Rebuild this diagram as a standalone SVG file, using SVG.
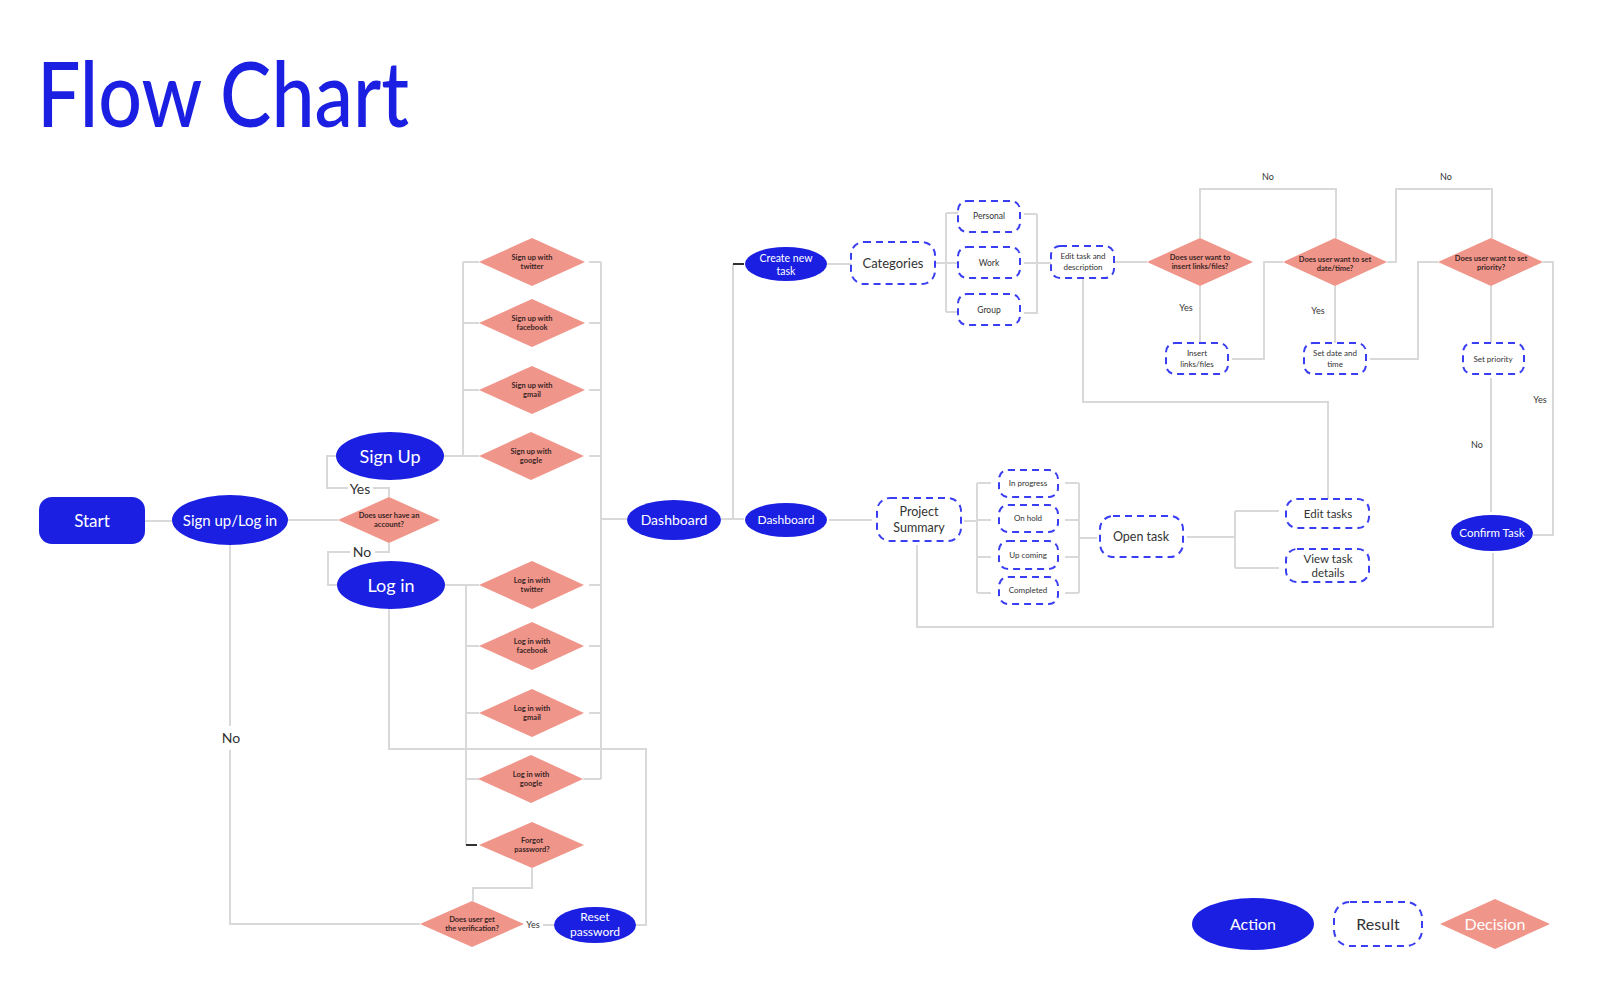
<svg xmlns="http://www.w3.org/2000/svg" width="1598" height="1006" viewBox="0 0 1598 1006">
<style>
text{font-family:Lato,"Open Sans","Liberation Sans",sans-serif;text-anchor:middle}
.act{fill:#1b1fe2}
.act-t{fill:#fff}
.res{fill:#fff;stroke:#3a3ef2;stroke-width:2;stroke-dasharray:7 5}
.res-t{fill:#333}
.dec{fill:#f0958a}
.dec-t{fill:#3a2626;font-size:7.5px;font-weight:bold}
.ln{fill:none;stroke:#d9d9d9;stroke-width:2}
.tick{fill:none;stroke:#333;stroke-width:2}
.lbl{fill:#333}
</style>
<rect width="1598" height="1006" fill="#fff"/>
<text x="37" y="127" textLength="372" lengthAdjust="spacingAndGlyphs" style="text-anchor:start;font-size:90px;font-weight:500" fill="#1b1fe2">Flow Chart</text>

<g id="connectors">
<path class="ln" d="M145 521H172"/>
<path class="ln" d="M288 520H338"/>
<path class="ln" d="M389 497V488H373M348 488H327V456H336"/>
<path class="ln" d="M389 543V552H375M350 552H328V585H337"/>
<path class="ln" d="M444 456H479M463 262V456M463 262H479M463 323H479M463 390H479"/>
<path class="ln" d="M589 262H601M589 323H601M589 390H601M589 456H601M601 262V779"/>
<path class="ln" d="M445 585H479M466 585V845M466 646H479M466 713H479M466 779H479"/>
<path class="tick" d="M466 845H477"/>
<path class="ln" d="M589 585H601M589 646H601M589 713H601M583 779H601"/>
<path class="ln" d="M601 519H627"/>
<path class="ln" d="M721 519H744M733 519V264"/>
<path class="tick" d="M733 264H744"/>
<path class="ln" d="M827 264H851"/>
<path class="ln" d="M935 263H958M946 213V312M946 213H958M946 312H958"/>
<path class="ln" d="M1024 214H1037M1024 263H1051M1024 313H1037M1037 214V314"/>
<path class="ln" d="M1114 262H1147"/>
<path class="ln" d="M1083 278V402H1328V499"/>
<path class="ln" d="M1200 238V189H1336V238"/>
<path class="ln" d="M1200 286V343"/>
<path class="ln" d="M1232 359H1264V262H1283"/>
<path class="ln" d="M1335 286V343"/>
<path class="ln" d="M1387 262H1396V189H1492V238"/>
<path class="ln" d="M1370 359H1418V262H1438"/>
<path class="ln" d="M1491 286V343"/>
<path class="ln" d="M1543 262H1553V535H1533"/>
<path class="ln" d="M1491 378V512"/>
<path class="ln" d="M1493 553V627H917V545"/>
<path class="ln" d="M829 520H872"/>
<path class="ln" d="M964 521H977M977 483V593M977 483H991M977 520H991M977 557H991M977 593H991"/>
<path class="ln" d="M1065 483H1079M1065 520H1079M1065 557H1079M1065 593H1079M1079 483V593M1079 538H1097"/>
<path class="ln" d="M1187 537H1235M1235 511V568M1235 511H1279M1235 568H1279"/>
<path class="ln" d="M230 545V726M230 750V924H420"/>
<path class="ln" d="M532 868V888H473V901"/>
<path class="ln" d="M543 925H554"/>
<path class="ln" d="M635 925H646V749H389V608"/>
<text class="lbl" x="360" y="494" font-size="14">Yes</text>
<text class="lbl" x="362" y="557" font-size="14">No</text>
<text class="lbl" x="231" y="743" font-size="14">No</text>
<text class="lbl" x="533" y="928" font-size="9">Yes</text>
<text class="lbl" x="1268" y="180" font-size="9">No</text>
<text class="lbl" x="1446" y="180" font-size="9">No</text>
<text class="lbl" x="1186" y="311" font-size="9">Yes</text>
<text class="lbl" x="1318" y="314" font-size="9">Yes</text>
<text class="lbl" x="1540" y="403" font-size="9">Yes</text>
<text class="lbl" x="1477" y="448" font-size="9">No</text>
</g>

<g id="start"><rect class="act" x="39" y="497" width="106" height="47" rx="13"/><text class="act-t" x="92" y="527" font-size="17">Start</text></g>
<g id="signup-login"><ellipse class="act" cx="230" cy="520" rx="58" ry="25"/><text class="act-t" x="230" y="526" font-size="15">Sign up/Log in</text></g>
<g id="q-account"><polygon class="dec" points="338,520 389,497 440,520 389,543"/><text class="dec-t" x="389" y="518">Does user have an<tspan x="389" dy="9">account?</tspan></text></g>
<g id="sign-up"><ellipse class="act" cx="390" cy="456" rx="54" ry="24"/><text class="act-t" x="390" y="463" font-size="18">Sign Up</text></g>
<g id="log-in"><ellipse class="act" cx="391" cy="585" rx="54" ry="24"/><text class="act-t" x="391" y="592" font-size="18">Log in</text></g>

<g id="su-twitter"><polygon class="dec" points="479,262 532,238 585,262 532,286"/><text class="dec-t" x="532" y="260">Sign up with<tspan x="532" dy="9">twitter</tspan></text></g>
<g id="su-facebook"><polygon class="dec" points="479,323 532,299 585,323 532,347"/><text class="dec-t" x="532" y="321">Sign up with<tspan x="532" dy="9">facebook</tspan></text></g>
<g id="su-gmail"><polygon class="dec" points="479,390 532,366 585,390 532,414"/><text class="dec-t" x="532" y="388">Sign up with<tspan x="532" dy="9">gmail</tspan></text></g>
<g id="su-google"><polygon class="dec" points="479,456 531,432 584,456 531,480"/><text class="dec-t" x="531" y="454">Sign up with<tspan x="531" dy="9">google</tspan></text></g>

<g id="li-twitter"><polygon class="dec" points="479,585 532,561 584,585 532,609"/><text class="dec-t" x="532" y="583">Log in with<tspan x="532" dy="9">twitter</tspan></text></g>
<g id="li-facebook"><polygon class="dec" points="479,646 532,622 584,646 532,670"/><text class="dec-t" x="532" y="644">Log in with<tspan x="532" dy="9">facebook</tspan></text></g>
<g id="li-gmail"><polygon class="dec" points="479,713 532,689 584,713 532,737"/><text class="dec-t" x="532" y="711">Log in with<tspan x="532" dy="9">gmail</tspan></text></g>
<g id="li-google"><polygon class="dec" points="478,779 531,755 583,779 531,803"/><text class="dec-t" x="531" y="777">Log in with<tspan x="531" dy="9">google</tspan></text></g>
<g id="forgot"><polygon class="dec" points="479,845 532,822 584,845 532,868"/><text class="dec-t" x="532" y="843">Forgot<tspan x="532" dy="9">password?</tspan></text></g>
<g id="q-verify"><polygon class="dec" points="420,924 472,901 524,924 472,947"/><text class="dec-t" x="472" y="922">Does user get<tspan x="472" dy="9">the verification?</tspan></text></g>
<g id="reset"><ellipse class="act" cx="595" cy="925" rx="41" ry="18"/><text class="act-t" x="595" y="921" font-size="12">Reset<tspan x="595" dy="15">password</tspan></text></g>

<g id="dashboard-1"><ellipse class="act" cx="674" cy="520" rx="47" ry="20"/><text class="act-t" x="674" y="525" font-size="14">Dashboard</text></g>
<g id="dashboard-2"><ellipse class="act" cx="786" cy="520" rx="41" ry="17"/><text class="act-t" x="786" y="524" font-size="12">Dashboard</text></g>
<g id="create-task"><ellipse class="act" cx="786" cy="264" rx="41" ry="17"/><text class="act-t" x="786" y="262" font-size="10.5">Create new<tspan x="786" dy="13">task</tspan></text></g>
<g id="categories"><rect class="res" x="851" y="242" width="84" height="42" rx="13"/><text class="res-t" x="893" y="268" font-size="13">Categories</text></g>
<g id="personal"><rect class="res" x="958" y="201" width="62" height="31" rx="9"/><text class="res-t" x="989" y="219" font-size="8.5">Personal</text></g>
<g id="work"><rect class="res" x="958" y="247" width="62" height="31" rx="9"/><text class="res-t" x="989" y="266" font-size="8.5">Work</text></g>
<g id="group"><rect class="res" x="958" y="294" width="62" height="31" rx="9"/><text class="res-t" x="989" y="313" font-size="8.5">Group</text></g>
<g id="edit-desc"><rect class="res" x="1051" y="246" width="63" height="32" rx="9"/><text class="res-t" x="1083" y="259" font-size="8">Edit task and<tspan x="1083" dy="11">description</tspan></text></g>
<g id="q-links"><polygon class="dec" points="1147,262 1200,238 1253,262 1200,286"/><text class="dec-t" x="1200" y="260">Does user want to<tspan x="1200" dy="9">insert links/files?</tspan></text></g>
<g id="q-date"><polygon class="dec" points="1283,262 1335,238 1387,262 1335,286"/><text class="dec-t" x="1335" y="262">Does user want to set<tspan x="1335" dy="9">date/time?</tspan></text></g>
<g id="q-priority"><polygon class="dec" points="1438,262 1491,238 1543,262 1491,286"/><text class="dec-t" x="1491" y="261">Does user want to set<tspan x="1491" dy="9">priority?</tspan></text></g>
<g id="insert-links"><rect class="res" x="1166" y="343" width="62" height="31" rx="9"/><text class="res-t" x="1197" y="356" font-size="8">Insert<tspan x="1197" dy="11">links/files</tspan></text></g>
<g id="set-date"><rect class="res" x="1304" y="343" width="62" height="31" rx="9"/><text class="res-t" x="1335" y="356" font-size="8">Set date and<tspan x="1335" dy="11">time</tspan></text></g>
<g id="set-priority"><rect class="res" x="1463" y="343" width="61" height="31" rx="9"/><text class="res-t" x="1493" y="362" font-size="8">Set priority</text></g>
<g id="confirm"><ellipse class="act" cx="1492" cy="533" rx="41" ry="18"/><text class="act-t" x="1492" y="537" font-size="11.5">Confirm Task</text></g>

<g id="project-summary"><rect class="res" x="877" y="498" width="84" height="43" rx="13"/><text class="res-t" x="919" y="516" font-size="12.5">Project<tspan x="919" dy="16">Summary</tspan></text></g>
<g id="in-progress"><rect class="res" x="999" y="470" width="59" height="27" rx="9"/><text class="res-t" x="1028" y="486" font-size="8">In progress</text></g>
<g id="on-hold"><rect class="res" x="999" y="505" width="59" height="27" rx="9"/><text class="res-t" x="1028" y="521" font-size="8">On hold</text></g>
<g id="up-coming"><rect class="res" x="999" y="541" width="59" height="28" rx="9"/><text class="res-t" x="1028" y="558" font-size="8">Up coming</text></g>
<g id="completed"><rect class="res" x="999" y="577" width="59" height="27" rx="9"/><text class="res-t" x="1028" y="593" font-size="8">Completed</text></g>
<g id="open-task"><rect class="res" x="1100" y="516" width="83" height="41" rx="13"/><text class="res-t" x="1141" y="541" font-size="12.5">Open task</text></g>
<g id="edit-tasks"><rect class="res" x="1286" y="499" width="83" height="29" rx="11"/><text class="res-t" x="1328" y="518" font-size="11.5">Edit tasks</text></g>
<g id="view-task"><rect class="res" x="1286" y="549" width="83" height="33" rx="11"/><text class="res-t" x="1328" y="563" font-size="11.5">View task<tspan x="1328" dy="14">details</tspan></text></g>

<g id="legend-action"><ellipse class="act" cx="1253" cy="924" rx="61" ry="26"/><text class="act-t" x="1253" y="930" font-size="16">Action</text></g>
<g id="legend-result"><rect class="res" x="1334" y="902" width="88" height="44" rx="16"/><text class="res-t" x="1378" y="930" font-size="16">Result</text></g>
<g id="legend-decision"><polygon class="dec" points="1440,924 1495,899 1550,924 1495,949"/><text x="1495" y="930" font-size="16" fill="#fff">Decision</text></g>
</svg>
